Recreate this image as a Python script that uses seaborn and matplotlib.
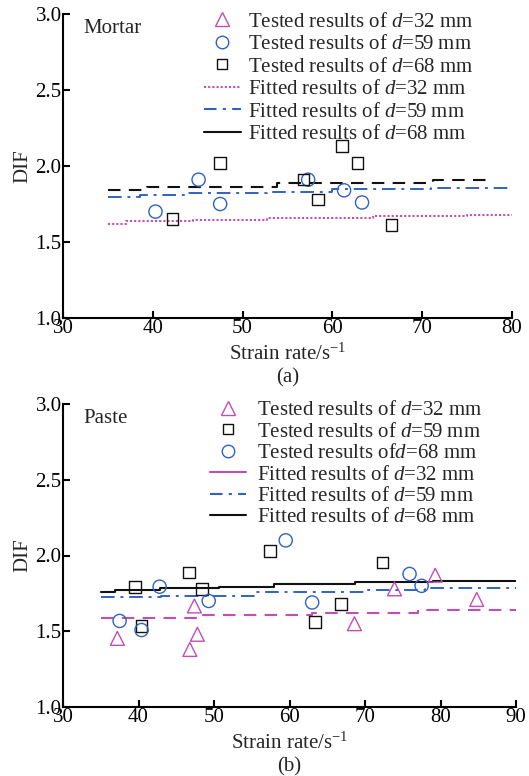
import matplotlib
matplotlib.use("Agg")
import matplotlib.pyplot as plt
import seaborn as sns
import pandas as pd
from matplotlib.lines import Line2D

sns.set_style("ticks")
plt.rcParams['font.family'] = ['Liberation Serif', 'DejaVu Serif']
plt.rcParams['mathtext.fontset'] = 'custom'
plt.rcParams['mathtext.rm'] = 'Liberation Serif'
plt.rcParams['mathtext.it'] = 'Liberation Serif:italic'

PINK = '#C24DB3'
BLUE = '#2F62C2'
BLACK = '#111111'

# ---------------- Mortar (a) ----------------
m_tri_x = []
m_tri_y = []
m_circ_x = [40.3, 45.1, 47.5, 57.3, 61.3, 63.3]
m_circ_y = [1.70, 1.91, 1.75, 1.91, 1.84, 1.76]
m_sq_x = [42.2, 47.5, 56.8, 58.4, 61.1, 62.8, 66.6]
m_sq_y = [1.65, 2.02, 1.91, 1.78, 2.13, 2.02, 1.61]

m_fit32_x = [35.0, 37.0, 44.5, 52.7, 64.5, 75.0, 80.0]
m_fit32_y = [1.62, 1.635, 1.645, 1.656, 1.669, 1.68, 1.68]
m_fit59_x = [35.0, 38.6, 43.8, 52.7, 60.0, 71.0, 80.0]
m_fit59_y = [1.795, 1.81, 1.822, 1.832, 1.848, 1.858, 1.858]
m_fit68_x = [35.0, 39.3, 53.8, 71.2, 77.9]
m_fit68_y = [1.845, 1.86, 1.886, 1.908, 1.908]

# ---------------- Paste (b) ----------------
p_tri_x = [37.2, 47.4, 46.8, 47.8, 68.6, 73.9, 79.3, 84.8]
p_tri_y = [1.453, 1.667, 1.38, 1.48, 1.55, 1.78, 1.87, 1.71]
p_sq_x = [39.5, 40.4, 46.7, 48.4, 57.4, 63.4, 66.8, 72.3]
p_sq_y = [1.794, 1.535, 1.889, 1.777, 2.03, 1.56, 1.678, 1.955]
p_circ_x = [37.5, 40.4, 42.8, 49.3, 59.5, 63.0, 75.9, 77.5]
p_circ_y = [1.568, 1.508, 1.794, 1.70, 2.10, 1.69, 1.878, 1.80]

p_fit32_x = [35.0, 48.0, 63.0, 77.0, 90.0]
p_fit32_y = [1.59, 1.605, 1.62, 1.638, 1.638]
p_fit59_x = [35.0, 43.0, 55.6, 70.0, 78.0, 90.0]
p_fit59_y = [1.724, 1.735, 1.757, 1.772, 1.785, 1.785]
p_fit68_x = [35.0, 36.9, 42.8, 50.6, 57.9, 68.7, 79.0, 90.0]
p_fit68_y = [1.76, 1.772, 1.783, 1.794, 1.81, 1.823, 1.833, 1.833]

FS = 15

fig = plt.figure(figsize=(5.29, 7.76), dpi=100)
ax1 = fig.add_axes([63/529, 1-318/776, 449/529, 304/776])
ax2 = fig.add_axes([63/529, 1-707/776, 453/529, 303/776])


def scat(ax, x, y, marker, color, size):
    if len(x) == 0:
        return
    sns.scatterplot(x=x, y=y, ax=ax, marker=marker, s=size, facecolors='none',
                    edgecolor=color, linewidth=1.0, legend=False, zorder=3)


def line(ax, x, y, color, ls, lw=1.4):
    sns.lineplot(x=x, y=y, ax=ax, color=color, linestyle=ls, linewidth=lw,
                 drawstyle='steps-post', estimator=None, sort=False, legend=False, zorder=2)


# Mortar
line(ax1, m_fit32_x, m_fit32_y, PINK, (0, (1, 1)), 1.5)
line(ax1, m_fit59_x, m_fit59_y, BLUE, (0, (7, 3, 1.5, 3)), 1.4)
line(ax1, m_fit68_x, m_fit68_y, BLACK, (0, (6, 4)), 1.5)
scat(ax1, m_tri_x, m_tri_y, '^', PINK, 100)
scat(ax1, m_circ_x, m_circ_y, 'o', BLUE, 90)
scat(ax1, m_sq_x, m_sq_y, 's', BLACK, 70)

# Paste
line(ax2, p_fit32_x, p_fit32_y, PINK, (0, (6, 4)), 1.5)
line(ax2, p_fit59_x, p_fit59_y, BLUE, (0, (7, 3, 1.5, 3)), 1.4)
line(ax2, p_fit68_x, p_fit68_y, BLACK, '-', 1.5)
scat(ax2, p_tri_x, p_tri_y, '^', PINK, 100)
scat(ax2, p_sq_x, p_sq_y, 's', BLACK, 70)
scat(ax2, p_circ_x, p_circ_y, 'o', BLUE, 90)


def mk(marker, color, ms):
    return Line2D([], [], linestyle='none', marker=marker, markersize=ms,
                  markerfacecolor='none', markeredgecolor=color, markeredgewidth=1.0)


def ln(color, ls):
    return Line2D([], [], color=color, linestyle=ls, linewidth=1.5)


h1 = [mk('^', PINK, 9.5), mk('o', BLUE, 9), mk('s', BLACK, 7.5),
      ln(PINK, (0, (1, 1))), ln(BLUE, (0, (6, 3, 1.5, 3))), ln(BLACK, '-')]
l1 = ['Tested results of $d$=32 mm', 'Tested results of $d$=59 mm', 'Tested results of $d$=68 mm',
      'Fitted results of $d$=32 mm', 'Fitted results of $d$=59 mm', 'Fitted results of $d$=68 mm']
h2 = [mk('^', PINK, 9.5), mk('s', BLACK, 7.5), mk('o', BLUE, 9),
      ln(PINK, '-'), ln(BLUE, (0, (6, 3, 1.5, 3))), ln(BLACK, '-')]
l2 = ['Tested results of $d$=32 mm', 'Tested results of $d$=59 mm', 'Tested results of$d$=68 mm',
      'Fitted results of $d$=32 mm', 'Fitted results of $d$=59 mm', 'Fitted results of $d$=68 mm']

ax1.legend(h1, l1, loc='upper left', bbox_to_anchor=(0.305, 1.02), frameon=False,
           fontsize=FS, handlelength=1.75, handletextpad=0.35, labelspacing=0.14,
           borderaxespad=0, borderpad=0.2)
ax2.legend(h2, l2, loc='upper left', bbox_to_anchor=(0.315, 1.025), frameon=False,
           fontsize=FS, handlelength=1.75, handletextpad=0.5, labelspacing=0.09,
           borderaxespad=0, borderpad=0.2)

for ax, xmax, name, tag in [(ax1, 80, 'Mortar', '(a)'), (ax2, 90, 'Paste', '(b)')]:
    ax.set_xlim(30, xmax)
    ax.set_ylim(1.0, 3.0)
    ax.set_xticks(range(30, xmax + 1, 10))
    ax.set_yticks([1.0, 1.5, 2.0, 2.5, 3.0])
    ax.set_yticklabels(['1.0', '1.5', '2.0', '2.5', '3.0'])
    sns.despine(ax=ax)
    for s in ['left', 'bottom']:
        ax.spines[s].set_linewidth(1.5)
        ax.spines[s].set_color('black')
    ax.tick_params(direction='in', length=5, width=1.5, labelsize=FS, pad=1, colors='black')
    ax.set_ylabel('DIF', fontsize=FS, labelpad=2)
    ax.set_xlabel('Strain rate/s$^{-1}$', fontsize=FS, labelpad=4)
    ax.text(0.045, 0.985, name, transform=ax.transAxes, fontsize=FS, va='top', ha='left')
    ax.text(0.5, -0.165, tag, transform=ax.transAxes, fontsize=FS, va='top', ha='center')

fig.savefig('out.png', dpi=100)
